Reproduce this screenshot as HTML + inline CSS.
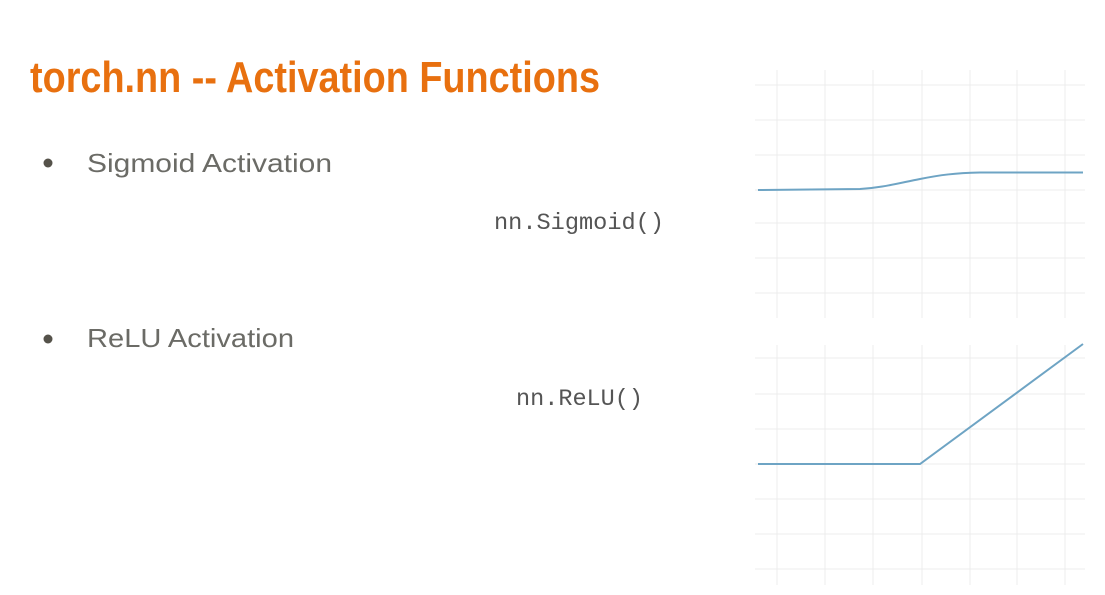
<!DOCTYPE html>
<html><head><meta charset="utf-8"><style>
html,body{margin:0;padding:0;background:#fff;}
svg{display:block}
</style></head><body>
<svg width="1105" height="595" viewBox="0 0 1105 595" xmlns="http://www.w3.org/2000/svg">
<rect width="1105" height="595" fill="#fff"/>
<g stroke="#ececec" stroke-width="1">
<line x1="777" y1="70" x2="777" y2="318"/><line x1="825" y1="70" x2="825" y2="318"/><line x1="873" y1="70" x2="873" y2="318"/><line x1="922" y1="70" x2="922" y2="318"/><line x1="970" y1="70" x2="970" y2="318"/><line x1="1017" y1="70" x2="1017" y2="318"/><line x1="1065" y1="70" x2="1065" y2="318"/>
<line x1="755" y1="85" x2="1085" y2="85"/><line x1="755" y1="120" x2="1085" y2="120"/><line x1="755" y1="155" x2="1085" y2="155"/><line x1="755" y1="190" x2="1085" y2="190"/><line x1="755" y1="223" x2="1085" y2="223"/><line x1="755" y1="258" x2="1085" y2="258"/><line x1="755" y1="293" x2="1085" y2="293"/>
<line x1="777" y1="345" x2="777" y2="585"/><line x1="825" y1="345" x2="825" y2="585"/><line x1="873" y1="345" x2="873" y2="585"/><line x1="922" y1="345" x2="922" y2="585"/><line x1="970" y1="345" x2="970" y2="585"/><line x1="1017" y1="345" x2="1017" y2="585"/><line x1="1065" y1="345" x2="1065" y2="585"/>
<line x1="755" y1="358" x2="1085" y2="358"/><line x1="755" y1="394" x2="1085" y2="394"/><line x1="755" y1="429" x2="1085" y2="429"/><line x1="755" y1="464" x2="1085" y2="464"/><line x1="755" y1="499" x2="1085" y2="499"/><line x1="755" y1="534" x2="1085" y2="534"/><line x1="755" y1="569" x2="1085" y2="569"/>
</g>
<path d="M758 190 L860 189 C880 188 895 184 920 179 C940 175 955 173 980 172.5 L1083 172.5" fill="none" stroke="#6ea4c4" stroke-width="2"/>
<path d="M758 464 L920 464 L1083 344" fill="none" stroke="#6ea4c4" stroke-width="2"/>
<text x="30" y="92" font-family="'Liberation Sans Narrow','Liberation Sans',sans-serif" font-weight="bold" font-size="44" fill="#e8700f" textLength="570" lengthAdjust="spacingAndGlyphs">torch.nn -- Activation Functions</text>
<circle cx="48" cy="163" r="4.5" fill="#55524a"/>
<circle cx="48" cy="339" r="4.5" fill="#55524a"/>
<text x="87" y="172" font-family="'Liberation Sans',sans-serif" font-size="26" fill="#6b6b66" textLength="245" lengthAdjust="spacingAndGlyphs">Sigmoid Activation</text>
<text x="87" y="347" font-family="'Liberation Sans',sans-serif" font-size="26" fill="#6b6b66" textLength="207" lengthAdjust="spacingAndGlyphs">ReLU Activation</text>
<text x="494" y="229" font-family="'Liberation Mono',monospace" font-size="23" fill="#555" textLength="170" lengthAdjust="spacingAndGlyphs">nn.Sigmoid()</text>
<text x="516" y="405" font-family="'Liberation Mono',monospace" font-size="23" fill="#555" textLength="127" lengthAdjust="spacingAndGlyphs">nn.ReLU()</text>
</svg>
</body></html>
